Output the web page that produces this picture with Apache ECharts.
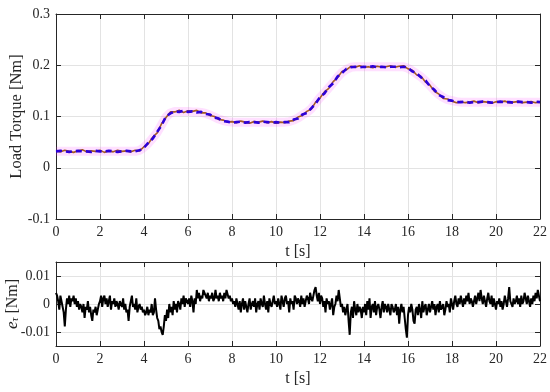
<!DOCTYPE html>
<html>
<head>
<meta charset="utf-8">
<script src="https://cdn.jsdelivr.net/npm/echarts@6/dist/echarts.min.js"></script>
<style>html,body{margin:0;padding:0;background:#fff;}#c{width:550px;height:392px;}</style>
</head>
<body>
<div id="c"></div>
<script>
// ---- Data ----
const topStep = 0.2;   // s, sampling of top-plot series
const errStep = 0.05;  // s, sampling of error series
const xTicks = [0, 2, 4, 6, 8, 10, 12, 14, 16, 18, 20, 22];
const topYTicks = [-0.1, 0, 0.1, 0.2, 0.3];
const errYTicks = [-0.01, 0, 0.01];

const torqueRef = [
  0.032,0.032,0.032,0.032,0.032,0.032,0.032,0.032,0.032,0.032,0.032,0.032,0.032,0.032,0.032,0.032,0.032,0.032,0.032,
  0.034,0.040,0.048,0.058,0.069,0.084,0.099,0.107,0.110,0.110,0.110,0.110,0.109,0.109,0.108,0.106,0.103,0.099,0.095,0.092,0.090,
  0.089,0.089,0.089,0.089,0.089,0.089,0.089,0.089,0.089,0.089,0.089,0.089,0.089,
  0.090,0.093,0.097,0.103,0.108,0.115,0.126,0.137,0.146,0.156,0.166,0.177,0.186,0.192,0.196,0.197,
  0.197,0.197,0.197,0.197,0.197,0.197,0.197,0.197,0.197,0.197,0.197,
  0.194,0.189,0.183,0.177,0.169,0.160,0.151,0.143,0.137,0.133,0.131,0.129,
  0.128,0.128,0.128,0.128,0.128,0.128,0.128,0.128,0.128,0.128,0.128,0.128,0.128,0.128,0.128,0.128,0.128,0.128,0.128
];
const torqueMeas = [
  0.033,0.031,0.034,0.032,0.030,0.033,0.035,0.031,0.033,0.032,0.034,0.030,0.033,0.031,0.034,0.032,0.033,0.031,0.034,
  0.033,0.041,0.047,0.060,0.068,0.086,0.098,0.109,0.109,0.112,0.108,0.111,0.110,0.112,0.107,0.107,0.102,0.100,0.094,0.093,0.089,
  0.090,0.088,0.091,0.089,0.087,0.090,0.089,0.091,0.088,0.090,0.087,0.089,0.088,
  0.091,0.092,0.099,0.102,0.110,0.114,0.128,0.136,0.148,0.155,0.168,0.176,0.188,0.191,0.198,0.196,
  0.199,0.196,0.197,0.195,0.198,0.196,0.197,0.199,0.196,0.198,0.199,
  0.193,0.190,0.181,0.178,0.167,0.161,0.149,0.144,0.135,0.134,0.130,0.127,
  0.129,0.127,0.128,0.130,0.127,0.129,0.128,0.126,0.129,0.128,0.130,0.127,0.128,0.129,0.127,0.128,0.129,0.127,0.128
];
const torqueEst = [
  0.032,0.033,0.032,0.031,0.032,0.033,0.032,0.032,0.031,0.033,0.032,0.032,0.033,0.032,0.031,0.032,0.033,0.032,0.032,
  0.034,0.039,0.049,0.057,0.070,0.083,0.100,0.106,0.110,0.109,0.111,0.109,0.110,0.108,0.109,0.105,0.104,0.098,0.096,0.091,0.090,
  0.088,0.089,0.090,0.088,0.089,0.089,0.088,0.090,0.089,0.088,0.089,0.088,0.089,
  0.089,0.094,0.096,0.104,0.107,0.116,0.125,0.138,0.145,0.157,0.165,0.178,0.185,0.193,0.196,0.197,
  0.196,0.197,0.196,0.198,0.196,0.197,0.196,0.197,0.197,0.196,0.197,
  0.195,0.188,0.184,0.176,0.170,0.159,0.152,0.142,0.138,0.132,0.131,0.128,
  0.128,0.129,0.127,0.128,0.128,0.129,0.128,0.127,0.128,0.129,0.128,0.128,0.127,0.129,0.128,0.128,0.127,0.129,0.128
];
const torqueErr = [
  .004,.003,.001,-.002,.003,.001,-.001,-.003,-.008,-.002,.002,0,.003,-.001,.002,.001,.003,0,.002,-.001,
  .001,-.002,0,-.001,-.003,0,-.005,-.001,-.002,.001,-.003,-.001,-.004,-.006,-.002,-.003,-.001,-.004,-.002,0,
  .001,.003,-.001,.002,.003,0,.002,-.001,.001,.003,-.002,.001,0,.002,-.001,.001,0,-.002,.001,0,
  -.001,.002,-.002,0,-.003,-.002,-.006,-.001,.001,.003,-.001,0,-.002,.002,-.003,-.001,0,-.002,-.001,-.003,
  -.002,-.004,-.003,-.001,-.004,-.002,-.003,0,-.004,-.003,.002,-.002,-.005,-.006,-.009,-.008,-.010,-.011,-.008,-.004,
  -.006,-.002,-.005,0,-.003,-.001,-.004,.001,-.002,0,-.003,.001,0,-.002,.002,0,.003,-.001,.002,.001,
  0,.002,-.001,.003,.001,-.003,.002,0,.005,.002,.004,.001,.003,.002,.005,.004,.003,.002,.004,.001,
  .003,.002,.004,.001,.002,.005,.002,.003,.001,.004,.002,.003,.001,.004,.002,.005,.005,.002,.003,.001,
  .002,0,.001,-.001,.002,0,-.002,.001,-.003,0,.002,-.002,.001,-.001,-.003,0,.002,-.002,0,.001,
  -.001,.002,-.003,0,.001,-.002,.002,0,-.001,.003,0,-.002,.001,-.003,.002,0,-.001,.001,.003,0,
  .001,-.001,.002,0,-.002,.003,.001,-.001,.002,.003,0,.001,-.003,.002,0,.001,-.002,.003,.002,0,
  .002,.001,-.001,.003,0,.002,-.001,.001,.003,.002,0,.004,.002,.001,.003,.005,.006,.003,.001,.004,
  0,.003,.002,-.001,.001,-.003,.002,0,.001,-.002,0,.002,-.004,-.001,0,.003,.001,.005,.002,-.001,
  0,-.003,-.001,-.004,-.002,0,-.006,-.011,-.003,-.001,-.005,.001,-.002,-.004,0,-.003,-.001,-.002,-.005,-.001,
  -.003,0,-.004,.001,-.002,.002,-.005,-.001,0,-.003,.001,-.004,-.001,0,-.002,-.005,-.001,.001,-.003,0,
  -.001,-.003,0,-.002,-.004,0,-.001,-.003,-.002,0,-.004,-.001,-.007,-.002,0,-.003,-.001,-.005,-.009,-.012,
  -.004,-.001,-.003,0,-.002,-.006,-.007,-.002,-.001,-.004,0,-.002,-.005,.001,-.003,-.001,0,-.004,-.002,0,
  -.003,-.001,.001,-.002,0,-.004,-.001,0,-.003,.001,-.002,-.001,0,-.004,-.002,.001,-.001,0,-.003,.002,
  0,-.002,.001,.003,0,-.001,.002,0,.003,.001,-.001,.002,0,.003,.001,.004,0,.002,.001,-.001,
  .001,.003,0,.002,.004,.001,.005,.002,0,.003,.001,-.001,.002,.004,.001,0,.003,-.001,.002,0,
  -.002,.001,0,.002,-.001,.001,-.002,0,.003,.001,-.001,.002,.006,.001,0,-.001,.002,0,.001,.003,
  0,.002,-.001,.003,0,.001,.004,.002,0,.003,.001,-.001,.002,0,.003,.001,.004,.002,.005,.003,
  .001
];

// ---- Build ----
function pairs(step, arr){ return arr.map((v,i)=>[+(i*step).toFixed(2), v]); }

const FONT = 'Liberation Serif';
const INK = '#262626';
const GRID = '#e3e3e3';

function xAx(gridIndex, pos, withLabels, name){
  return {
    type:'value', gridIndex, position:pos, min:0, max:22, interval:2,
    axisLine:{show:true, onZero:false, lineStyle:{color:INK, width:1}},
    axisTick:{show:true, inside:true, length:5, lineStyle:{color:INK}},
    axisLabel:{show:withLabels, color:INK, fontFamily:FONT, fontSize:14, margin:6},
    splitLine:{show:withLabels, lineStyle:{color:GRID, width:1}},
    name: name || '', nameLocation:'middle', nameGap:25, nameMoveOverlap:false,
    nameTextStyle:{color:INK, fontFamily:FONT, fontSize:16}
  };
}
function yAx(gridIndex, pos, withLabels, cfg){
  return Object.assign({
    type:'value', gridIndex, position:pos, nameMoveOverlap:false,
    axisLine:{show:true, onZero:false, lineStyle:{color:INK, width:1}},
    axisTick:{show:true, inside:true, length:5, lineStyle:{color:INK}},
    axisLabel:{show:withLabels, color:INK, fontFamily:FONT, fontSize:14, margin:6},
    splitLine:{show:withLabels, lineStyle:{color:GRID, width:1}}
  }, cfg);
}

const option = {
  animation:false,
  backgroundColor:'#fff',
  grid:[
    {left:56, right:10, top:14, height:205, outerBoundsMode:'none', containLabel:false},
    {left:56, right:10, top:262, height:84, outerBoundsMode:'none', containLabel:false}
  ],
  xAxis:[
    xAx(0,'bottom',true,'t [s]'),
    xAx(0,'top',false),
    xAx(1,'bottom',true,'t [s]'),
    xAx(1,'top',false)
  ],
  yAxis:[
    yAx(0,'left',true,{min:-0.1,max:0.3,interval:0.1,
      name:'Load Torque [Nm]', nameLocation:'middle', nameGap:31,
      nameTextStyle:{color:INK, fontFamily:FONT, fontSize:16.5}}),
    yAx(0,'right',false,{min:-0.1,max:0.3,interval:0.1}),
    yAx(1,'left',true,{min:-0.015,max:0.015,
      axisTick:{show:true, inside:true, length:5, lineStyle:{color:INK}, customValues:errYTicks},
      axisLabel:{show:true, color:INK, fontFamily:FONT, fontSize:14, margin:6, customValues:errYTicks},
      name:'{e|e}{s|τ} [Nm]', nameLocation:'middle', nameGap:35,
      nameTextStyle:{color:INK, fontFamily:FONT, fontSize:16,
        rich:{e:{fontFamily:FONT, fontSize:17, fontStyle:'italic', color:INK},
              s:{fontFamily:FONT, fontSize:11, fontStyle:'italic', color:INK, verticalAlign:'bottom', padding:[6,0,0,0]}}}}),
    yAx(1,'right',false,{min:-0.015,max:0.015,
      axisTick:{show:true, inside:true, length:5, lineStyle:{color:INK}, customValues:errYTicks}})
  ],
  series:[
    {type:'line', xAxisIndex:0, yAxisIndex:0, data:pairs(topStep, torqueRef), showSymbol:false,
     lineStyle:{color:'rgba(255,60,255,0.16)', width:9}, z:1},
    {type:'line', xAxisIndex:0, yAxisIndex:0, data:pairs(topStep, torqueMeas), showSymbol:false,
     lineStyle:{color:'#a35a22', width:1.6}, z:2},
    {type:'line', xAxisIndex:0, yAxisIndex:0, data:pairs(topStep, torqueEst), showSymbol:false,
     lineStyle:{color:'#2d00d8', width:2.6, type:[6,4]}, z:3},
    {type:'line', xAxisIndex:2, yAxisIndex:2, data:pairs(errStep, torqueErr), showSymbol:false,
     lineStyle:{color:'#000', width:2}, z:3}
  ]
};
const chart = echarts.init(document.getElementById('c'), null, {renderer:'canvas'});
chart.setOption(option);
</script>
</body>
</html>
